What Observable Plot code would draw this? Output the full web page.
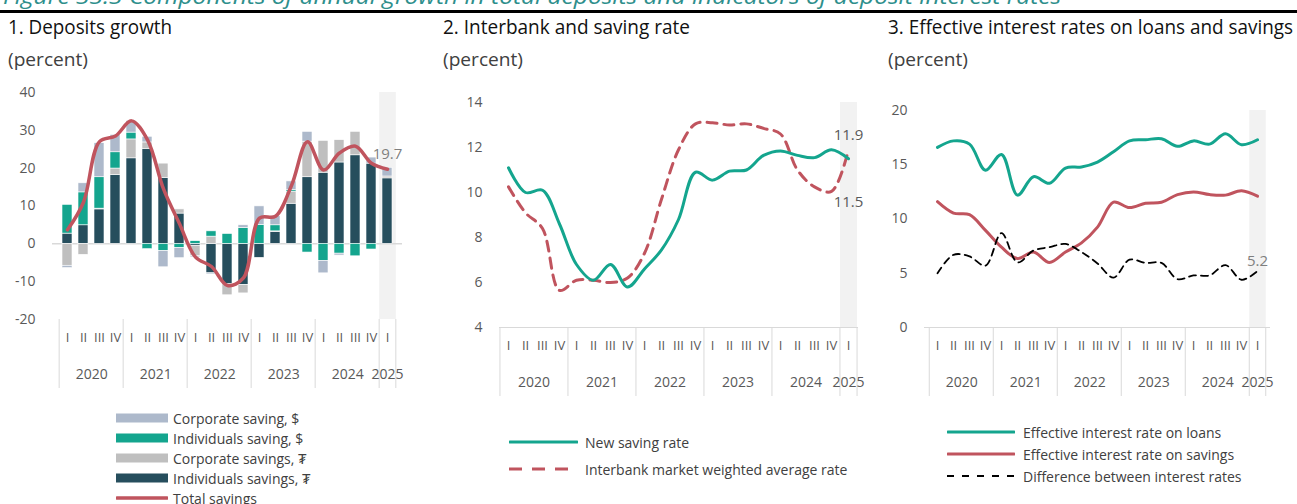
<!DOCTYPE html>
<html><head><meta charset="utf-8">
<script src="https://cdn.jsdelivr.net/npm/d3@7"></script>
<script src="https://cdn.jsdelivr.net/npm/@observablehq/plot@0.6"></script>
<style>
html,body{margin:0;padding:0;background:#fff;}
#root{position:relative;width:1297px;height:504px;overflow:hidden;font-family:"Open Sans",sans-serif;}
.abs{position:absolute;white-space:nowrap;}
.caption{font-size:21px;font-style:italic;color:#2e8f8c;line-height:26px;transform-origin:left top;}
.topline{left:0;top:10px;width:1297px;height:3px;background:#000;z-index:5;}
.title{font-size:20px;color:#111;line-height:20px;transform-origin:left top;}
.sub{font-size:18px;color:#404040;line-height:18px;transform-origin:left top;}
.lrow{position:absolute;display:flex;align-items:center;font-size:14px;color:#404040;white-space:nowrap;}
.lrow svg{display:block;flex:none;}
.pwrap{position:absolute;}
</style></head><body><div id="root"></div>
<script>
// ---------- data ----------
const quarterYear = [2020,2020,2020,2020,2021,2021,2021,2021,2022,2022,2022,2022,2023,2023,2023,2023,2024,2024,2024,2024,2025];
const quarterRoman = ["I","II","III","IV","I","II","III","IV","I","II","III","IV","I","II","III","IV","I","II","III","IV","I"];
const years = [2020,2021,2022,2023,2024,2025];

// Panel 1: components of annual deposit growth (percent)
const indMNT  = [2.7, 4.9, 9.1, 18.2, 22.6, 25.1, 17.4, 8.0, -0.5, -7.8, -10.7, -10.9, -3.7, 3.1, 10.6, 17.6, 18.8, 21.5, 23.4, 21.2, 17.3];
const corpMNT = [-5.8, -2.9, 0.2, 1.7, 5.0, 1.7, 3.8, 1.1, -2.8, 1.9, -2.9, -2.2, 0, 0.2, 3.2, 9.4, 8.4, 5.9, 6.2, 0, 0.5];
const indUSD  = [7.6, 8.7, 8.3, 4.3, 1.8, -1.4, -1.9, -1.1, 0.7, 1.4, 2.6, 4.2, 5.0, 1.6, 0.4, -2.3, -4.5, -2.6, -3.3, -1.5, 0];
const corpUSD = [-0.6, 2.4, 9.0, 4.6, 3.1, 1.5, -4.3, -2.7, -0.3, -0.3, 0, 0.7, 4.9, 2.4, 2.3, 2.6, -3.3, -0.5, 0, 1.6, 2.3];
const totalSavings = [3.7, 11, 27, 28.5, 32.5, 27.5, 14.5, 5.3, -3.5, -6, -11, -9, 6.8, 7.3, 15.4, 27, 19.5, 24, 25.8, 21.3, 19.7];
const stackSeries = ["Individuals savings, ₮", "Corporate savings, ₮", "Individuals saving, $", "Corporate saving, $"];
const stackColors = ["#264e5d", "#bfbfbf", "#14a58e", "#adb9cb"];
const legend1 = ["Corporate saving, $", "Individuals saving, $", "Corporate savings, ₮", "Individuals savings, ₮", "Total savings"];

// Panel 2
const newSavingRate = [11.1, 10.0, 10.1, 8.6, 6.8, 6.1, 6.8, 5.8, 6.6, 7.45, 8.8, 10.9, 10.55, 10.95, 11.0, 11.65, 11.85, 11.65, 11.55, 11.9, 11.5];
const interbankRate = [10.25, 9.1, 8.4, 5.65, 6.1, 6.1, 6.0, 6.2, 7.3, 9.7, 11.9, 13.05, 13.1, 13.0, 13.05, 12.85, 12.6, 11.0, 10.25, 10.05, 11.9];
const legend2 = ["New saving rate", "Interbank market weighted average rate"];

// Panel 3
const loanRate   = [16.6, 17.2, 16.9, 14.5, 15.95, 12.2, 13.9, 13.3, 14.7, 14.8, 15.25, 16.2, 17.2, 17.3, 17.4, 16.7, 17.2, 16.9, 17.85, 16.85, 17.3];
const savingRate = [11.6, 10.55, 10.4, 8.95, 7.4, 6.35, 6.95, 6.0, 6.95, 7.8, 9.25, 11.55, 11.05, 11.45, 11.55, 12.25, 12.5, 12.25, 12.2, 12.6, 12.1];
const rateDiff   = [5.0, 6.7, 6.55, 5.7, 8.7, 6.0, 7.1, 7.4, 7.7, 6.95, 5.9, 4.6, 6.25, 5.95, 5.95, 4.45, 4.8, 4.8, 5.75, 4.4, 5.2];
const legend3 = ["Effective interest rate on loans", "Effective interest rate on savings", "Difference between interest rates"];

const titles = ["1. Deposits growth", "2. Interbank and saving rate", "3. Effective interest rates on loans and savings"];
const subtitle = "(percent)";
const caption = "Figure 33.3 Components of annual growth in total deposits and indicators of deposit interest rates";

// ---------- helpers ----------
const keys = quarterYear.map((y, i) => `${y}-${quarterRoman[i]}`);
const root = document.getElementById("root");
const FONT = '"Open Sans", sans-serif';
const TEAL = "#14a58e", ROSE = "#c0545e";

function series(vals) { return vals.map((v, i) => ({q: keys[i], v})); }

function makePanel({left, top, width, height, mt, mr, mb, ml, yDomain, yTicks, marks, color, baseRule}) {
  const n = keys.length;
  const frameW = width - ml - mr, frameH = height - mt - mb;
  const step = frameW / n;
  const lastKey = keys[n - 1];
  const yearStarts = years.map(y => keys[quarterYear.indexOf(y)]);
  const fullYears = years.filter(y => quarterYear.filter(q => q === y).length === 4);
  const partYears = years.filter(y => quarterYear.filter(q => q === y).length < 4);
  const sep = {stroke: "#d9d9d9", strokeWidth: 1, insetTop: frameH, insetBottom: -69};
  const axisMarks = [
    Plot.ruleX(yearStarts, {x: d => d, dx: -step / 2, ...sep}),
    Plot.ruleX([lastKey], {x: d => d, dx: step / 2, ...sep}),
    Plot.text(keys, {x: d => d, text: (d, i) => quarterRoman[i], frameAnchor: "bottom", dy: 22, fontSize: 13}),
    Plot.text(fullYears, {x: y => keys[quarterYear.indexOf(y) + 1], text: d => String(d), frameAnchor: "bottom", dy: 59, dx: step / 2, fontSize: 14}),
    Plot.text(partYears, {x: y => keys[quarterYear.indexOf(y)], text: d => String(d), frameAnchor: "bottom", dy: 59, fontSize: 14}),
    Plot.text(yTicks, {y: d => d, text: d => String(d), frameAnchor: "left", textAnchor: "end", dx: -17, fontSize: 14})
  ];
  const band = Plot.ruleX([lastKey], {x: d => d, stroke: "#f2f2f2", strokeWidth: step});
  const base = baseRule != null ? [Plot.ruleY([baseRule.v], {stroke: "#d9d9d9", strokeWidth: baseRule.w})] : [];
  const svg = Plot.plot({
    width, height, marginTop: mt, marginRight: mr, marginBottom: mb, marginLeft: ml,
    x: {type: "band", domain: keys, paddingInner: 0.4, paddingOuter: 0.2, axis: null},
    y: {domain: yDomain, axis: null},
    color: color || undefined,
    style: {fontFamily: FONT, color: "#595959", background: "transparent", overflow: "visible"},
    marks: [band, ...base, ...marks, ...axisMarks]
  });
  const wrap = document.createElement("div");
  wrap.className = "pwrap";
  wrap.style.left = left + "px";
  wrap.style.top = top + "px";
  wrap.appendChild(svg);
  root.appendChild(wrap);
}

// ---------- panel 1 ----------
const stackData = [];
[indMNT, corpMNT, indUSD, corpUSD].forEach((arr, s) => arr.forEach((v, i) => stackData.push({q: keys[i], s: stackSeries[s], v})));
const tot = series(totalSavings);
makePanel({
  left: 0, top: 80, width: 420, height: 320, mt: 12, mr: 18, mb: 81, ml: 52,
  yDomain: [-20, 40], yTicks: [40, 30, 20, 10, 0, -10, -20],
  baseRule: {v: 0, w: 1.5},
  color: {domain: stackSeries, range: stackColors},
  marks: [
    Plot.barY(stackData, {x: "q", y: "v", fill: "s", stroke: "white", strokeWidth: 0.6}),
    Plot.line(tot, {x: "q", y: "v", stroke: ROSE, strokeWidth: 3.5, curve: "catmull-rom"}),
    Plot.text(tot.slice(-1), {x: "q", y: "v", text: d => d.v.toFixed(1), dy: -15, fill: "#7f7f7f", fontSize: 15})
  ]
});

// ---------- panel 2 ----------
const ns = series(newSavingRate), ib = series(interbankRate);
makePanel({
  left: 430, top: 80, width: 440, height: 320, mt: 22, mr: 12, mb: 73, ml: 69,
  yDomain: [4, 14], yTicks: [14, 12, 10, 8, 6, 4],
  baseRule: {v: 4, w: 1},
  marks: [
    Plot.line(ib, {x: "q", y: "v", stroke: ROSE, strokeWidth: 3, strokeDasharray: "10,7", curve: "catmull-rom"}),
    Plot.line(ns, {x: "q", y: "v", stroke: TEAL, strokeWidth: 3, curve: "catmull-rom"}),
    Plot.text(ib.slice(-1), {x: "q", y: "v", text: d => d.v.toFixed(1), dy: -15, fill: "#595959", fontSize: 15}),
    Plot.text(ns.slice(-1), {x: "q", y: "v", text: d => d.v.toFixed(1), dy: 43, fill: "#595959", fontSize: 15})
  ]
});

// ---------- panel 3 ----------
const ln = series(loanRate), sv = series(savingRate), df = series(rateDiff);
makePanel({
  left: 870, top: 80, width: 427, height: 320, mt: 30, mr: 27, mb: 73, ml: 54,
  yDomain: [0, 20], yTicks: [20, 15, 10, 5, 0],
  baseRule: {v: 0, w: 1},
  marks: [
    Plot.line(ln, {x: "q", y: "v", stroke: TEAL, strokeWidth: 3, curve: "catmull-rom"}),
    Plot.line(sv, {x: "q", y: "v", stroke: ROSE, strokeWidth: 3, curve: "catmull-rom"}),
    Plot.line(df, {x: "q", y: "v", stroke: "#000", strokeWidth: 1.8, strokeDasharray: "7,5", curve: "catmull-rom"}),
    Plot.text(df.slice(-1), {x: "q", y: "v", text: d => d.v.toFixed(1), dy: -10, fill: "#7f7f7f", fontSize: 15})
  ]
});

// ---------- text: caption, titles ----------
function addText(cls, text, left, top, targetW) {
  const el = document.createElement("div");
  el.className = "abs " + cls;
  el.textContent = text;
  el.style.left = left + "px";
  el.style.top = top + "px";
  root.appendChild(el);
  if (targetW) {
    const w = el.getBoundingClientRect().width;
    el.style.transform = `scaleX(${targetW / w})`;
  }
  return el;
}
addText("caption", caption, 3, -17, 1058);
const tl = document.createElement("div"); tl.className = "abs topline"; root.appendChild(tl);
const titleX = [8, 443, 888], titleW = [164, 247, 405];
titles.forEach((t, i) => {
  addText("title", t, titleX[i], 17, titleW[i]);
  addText("sub", subtitle, titleX[i], 50, 80);
});

// ---------- legends ----------
function legendRow(left, cy, h, swW, gap, label, swatch) {
  const row = document.createElement("div");
  row.className = "lrow";
  row.style.left = left + "px";
  row.style.top = (cy - h / 2) + "px";
  row.style.height = h + "px";
  const ns = "http://www.w3.org/2000/svg";
  const s = document.createElementNS(ns, "svg");
  s.setAttribute("width", swW); s.setAttribute("height", h);
  s.innerHTML = swatch(swW, h);
  row.appendChild(s);
  const t = document.createElement("span");
  t.textContent = label;
  t.style.marginLeft = gap + "px";
  row.appendChild(t);
  root.appendChild(row);
}
const rectSw = c => (w, h) => `<rect x="0" y="${h / 2 - 4.5}" width="${w}" height="9" fill="${c}"/>`;
const lineSw = (c, sw, dash) => (w, h) => `<line x1="1" x2="${w - 1}" y1="${h / 2}" y2="${h / 2}" stroke="${c}" stroke-width="${sw}" stroke-linecap="round" ${dash ? `stroke-dasharray="${dash}"` : ""}/>`;

const l1colors = [stackColors[3], stackColors[2], stackColors[1], stackColors[0]];
legend1.forEach((lab, i) => {
  const sw = i < 4 ? rectSw(l1colors[i]) : lineSw(ROSE, 3.5);
  legendRow(116, 418 + i * 20, 20, 52, 5, lab, sw);
});
legendRow(509, 442, 22, 69, 7, legend2[0], lineSw(TEAL, 3));
legendRow(509, 469, 22, 69, 7, legend2[1], (w, h) => `<line x1="0" x2="${w}" y1="${h / 2}" y2="${h / 2}" stroke="${ROSE}" stroke-width="3" stroke-dasharray="13,10"/>`);
legendRow(947, 432, 20, 68, 8, legend3[0], lineSw(TEAL, 3));
legendRow(947, 454, 20, 68, 8, legend3[1], lineSw(ROSE, 3));
legendRow(947, 476, 20, 68, 8, legend3[2], (w, h) => `<line x1="0" x2="${w}" y1="${h / 2}" y2="${h / 2}" stroke="#000" stroke-width="1.8" stroke-dasharray="7,8"/>`);
</script></body></html>
